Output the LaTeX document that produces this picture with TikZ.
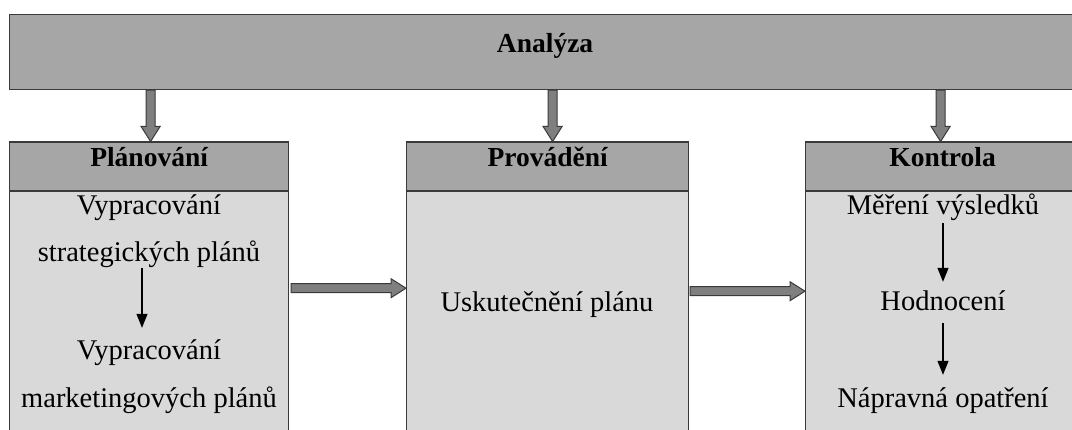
\documentclass[tikz,border=0pt]{standalone}
\usepackage{fontspec}
\setmainfont{Liberation Serif}
\usetikzlibrary{calc,arrows.meta}
\definecolor{boxgray}{HTML}{A6A6A6}
\definecolor{bodygray}{HTML}{D9D9D9}
\definecolor{arrgray}{HTML}{7F7F7F}
\definecolor{edgegray}{HTML}{3A3A3A}
\newcommand\blockarrow[2]{%
  \path ($(#2)!15pt!(#1)$) coordinate (ba-h);
  \draw[blockarr] ($(#1)!4.5pt!90:(#2)$) -- ($(ba-h)!4.5pt!90:(#2)$) -- ($(ba-h)!9.5pt!90:(#2)$) -- (#2)
    -- ($(ba-h)!9.5pt!-90:(#2)$) -- ($(ba-h)!4.5pt!-90:(#2)$) -- ($(#1)!4.5pt!-90:(#2)$) -- cycle;}
\tikzset{
  topbox/.style={draw=edgegray, line width=1.2pt, fill=boxgray, inner sep=0pt,
    text height=0pt, text depth=0pt, font=\fontsize{27.5}{32}\selectfont\bfseries},
  hdrbox/.style={draw=edgegray, line width=1.2pt, fill=boxgray, inner sep=0pt,
    minimum height=48.5pt, anchor=north west,
    text height=0pt, text depth=0pt, font=\fontsize{27.5}{32}\selectfont\bfseries},
  bodybox/.style={draw=edgegray, line width=1.2pt, fill=bodygray, inner sep=0pt,
    minimum height=270pt, anchor=north west},
  bodytext/.style={inner sep=0pt, anchor=base, text height=20pt, text depth=6pt,
    font=\fontsize{28.5}{34}\selectfont},
  blockarr/.style={draw=edgegray, line width=1pt, fill=arrgray, line join=miter},
  smallarr/.style={draw=black, line width=1.2pt, -{Triangle[length=14pt,width=11pt]}}
}
\begin{document}
\begin{tikzpicture}[x=1pt,y=-1pt]
\useasboundingbox (0,0) rectangle (1072,430);
\clip (0,0) rectangle (1072,430);
% top box
\node[topbox, anchor=north west, minimum width=1071pt, minimum height=75pt] (ana) at (9,14) {Analýza};
% headers
\node[hdrbox, minimum width=279pt] (planh) at (9,141.5) {Plánování};
\node[hdrbox, minimum width=282pt] (exech) at (406,141.5) {Provádění};
\node[hdrbox, minimum width=274pt] (konth) at (805,141.5) {Kontrola};
% bodies
\node[bodybox, minimum width=279pt] (planb) at (planh.south west) {};
\node[bodybox, minimum width=282pt] (execb) at (exech.south west) {};
\node[bodybox, minimum width=274pt] (kontb) at (konth.south west) {};
% texts
\node[bodytext] (p1) at (149,215) {Vypracování};
\node[bodytext] (p2) at (149,262) {strategických plánů};
\node[bodytext] (p3) at (149,360) {Vypracování};
\node[bodytext] (p4) at (149,408) {marketingových plánů};
\node[bodytext] (e1) at (547,312) {Uskutečnění plánu};
\node[bodytext] (k1) at (943,215) {Měření výsledků};
\node[bodytext] (k2) at (943,311) {Hodnocení};
\node[bodytext] (k3) at (943,408) {Nápravná opatření};
% small arrows
\draw[smallarr, shorten >=12pt] ([xshift=-7pt]p2.south) -- ([xshift=-7pt]p3.north);
\draw[smallarr, shorten <=2pt, shorten >=9pt] (k1.south) -- (k2.north);
\draw[smallarr, shorten <=6pt, shorten >=13pt] (k2.south) -- (k3.north);
% block arrows
\coordinate (v1s) at ([xshift=1.5pt]planh.north |- ana.south);
\coordinate (v1e) at ([xshift=1.5pt]planh.north);
\coordinate (v2s) at ([xshift=5pt]exech.north |- ana.south);
\coordinate (v2e) at ([xshift=5pt]exech.north);
\coordinate (v3s) at ([xshift=-2pt]konth.north |- ana.south);
\coordinate (v3e) at ([xshift=-2pt]konth.north);
\coordinate (h1s) at ([xshift=2pt,yshift=-97pt]planb.north east);
\coordinate (h1e) at (execb.west |- h1s);
\coordinate (h2s) at ([xshift=1pt,yshift=-100pt]execb.north east);
\coordinate (h2e) at (kontb.west |- h2s);
\blockarrow{v1s}{v1e}
\blockarrow{v2s}{v2e}
\blockarrow{v3s}{v3e}
\blockarrow{h1s}{h1e}
\blockarrow{h2s}{h2e}
\end{tikzpicture}
\end{document}
